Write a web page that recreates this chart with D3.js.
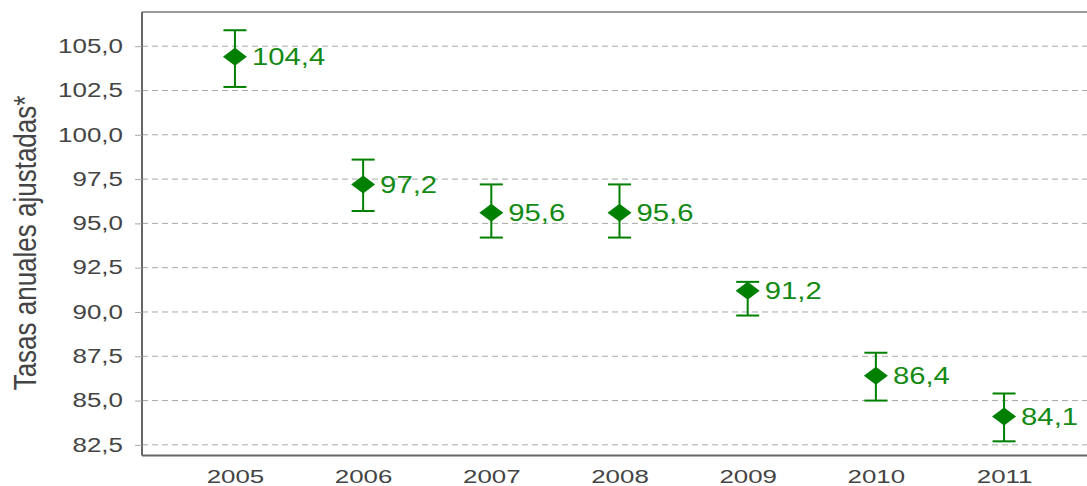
<!DOCTYPE html>
<html>
<head>
<meta charset="utf-8">
<script src="https://cdn.jsdelivr.net/npm/d3@7"></script>
<style>
  body { margin: 0; background: #fff; }
  text { font-family: "Liberation Sans", Arial, sans-serif; }
</style>
</head>
<body>
<div id="chart"></div>
<script>
// data
var years = ["2005", "2006", "2007", "2008", "2009", "2010", "2011"];
var rates = [104.4, 97.2, 95.6, 95.6, 91.2, 86.4, 84.1];
var lowerCI = [102.7, 95.7, 94.2, 94.2, 89.8, 85.0, 82.7];
var upperCI = [105.9, 98.6, 97.2, 97.2, 91.7, 87.7, 85.4];
var yTicks = [82.5, 85, 87.5, 90, 92.5, 95, 97.5, 100, 102.5, 105];

var svgWidth = 1087, svgHeight = 486;
var plot = {left: 142, top: 12, right: 1097, bottom: 455.5};
var green = "#008000";
var fmt = function(d) { return d3.format(".1f")(d).replace(".", ","); };

var svg = d3.select("#chart").append("svg")
  .attr("width", svgWidth)
  .attr("height", svgHeight);

var x = d3.scalePoint()
  .domain(years)
  .range([plot.left, plot.right])
  .padding(0.725);

var y = d3.scaleLinear()
  .domain([81.9, 106.93])
  .range([plot.bottom, plot.top]);

// grid lines
svg.append("g").selectAll("line")
  .data(yTicks)
  .enter().append("line")
  .attr("x1", plot.left)
  .attr("x2", svgWidth)
  .attr("y1", d => y(d))
  .attr("y2", d => y(d))
  .attr("stroke", "#a8a8a8")
  .attr("stroke-width", 1)
  .attr("stroke-dasharray", "6,4");

// frame top
svg.append("line")
  .attr("x1", plot.left).attr("x2", svgWidth)
  .attr("y1", plot.top).attr("y2", plot.top)
  .attr("stroke", "#999").attr("stroke-width", 2);

// y axis
var yAxis = svg.append("g")
  .attr("transform", `translate(${plot.left},0)`)
  .call(d3.axisLeft(y).tickValues(yTicks).tickFormat(fmt).tickSize(7).tickPadding(0));
yAxis.select(".domain").attr("stroke", "#666").attr("stroke-width", 2)
  .attr("d", `M0,${plot.top}V${plot.bottom}`);
yAxis.selectAll(".tick line").attr("stroke", "#a8a8a8");
yAxis.selectAll(".tick text")
  .attr("x", -14.3)
  .attr("transform", "scale(1.33,1)")
  .attr("fill", "#444")
  .style("font-size", "19.5px");

// x axis
var xAxis = svg.append("g")
  .attr("transform", `translate(0,${plot.bottom})`)
  .call(d3.axisBottom(x).tickSize(0).tickPadding(14));
xAxis.select(".domain").attr("stroke", "#666").attr("stroke-width", 2)
  .attr("d", `M${plot.left},0H${svgWidth}`);
xAxis.selectAll(".tick text")
  .attr("transform", "scale(1.4,1)")
  .attr("fill", "#444")
  .style("font-size", "18.5px");

// y title
svg.append("text")
  .attr("transform", "translate(25,243) scale(1.2,1) rotate(-90)")
  .attr("text-anchor", "middle")
  .attr("dominant-baseline", "central")
  .attr("fill", "#444")
  .style("font-size", "26px")
  .text("Tasas anuales ajustadas*");

// error bars
var points = years.map((yr, i) => ({year: yr, v: rates[i], lo: lowerCI[i], hi: upperCI[i]}));

var bars = svg.append("g").selectAll("g")
  .data(points)
  .enter().append("g")
  .attr("stroke", green)
  .attr("stroke-width", 2);

bars.append("line")
  .attr("x1", d => x(d.year)).attr("x2", d => x(d.year))
  .attr("y1", d => y(d.lo)).attr("y2", d => y(d.hi));
bars.append("line")
  .attr("x1", d => x(d.year) - 11.5).attr("x2", d => x(d.year) + 11.5)
  .attr("y1", d => y(d.hi)).attr("y2", d => y(d.hi));
bars.append("line")
  .attr("x1", d => x(d.year) - 11.5).attr("x2", d => x(d.year) + 11.5)
  .attr("y1", d => y(d.lo)).attr("y2", d => y(d.lo));

// diamonds
svg.append("g").selectAll("path")
  .data(points)
  .enter().append("path")
  .attr("d", "M0,-9L12,0L0,9L-12,0Z")
  .attr("transform", d => `translate(${x(d.year)},${y(d.v)})`)
  .attr("fill", green);

// value labels
svg.append("g").selectAll("text")
  .data(points)
  .enter().append("text")
  .attr("transform", d => `translate(${x(d.year) + 17},${y(d.v) + 8.5}) scale(1.22,1)`)
  .attr("fill", "#138a13")
  .style("font-size", "24px")
  .text(d => fmt(d.v));
</script>
</body>
</html>
